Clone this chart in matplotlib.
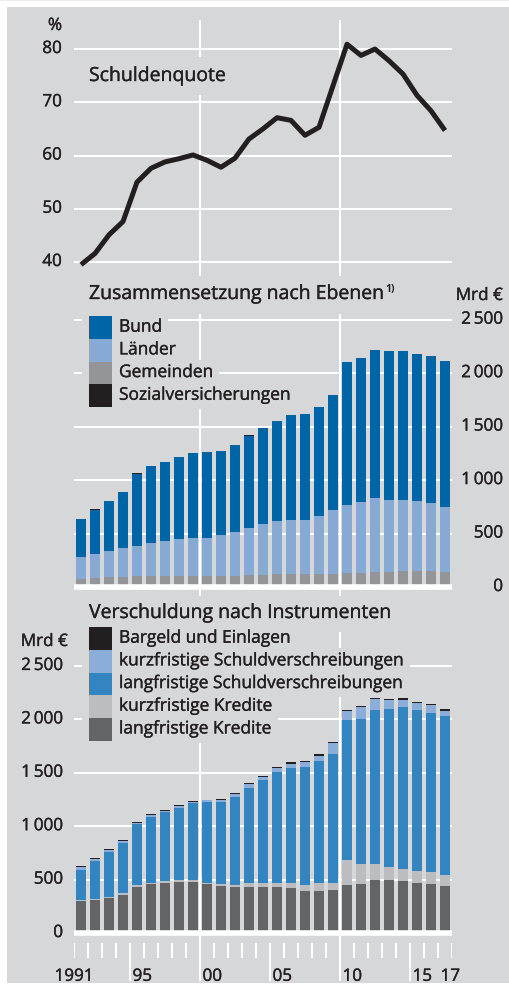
import matplotlib
matplotlib.use('Agg')
import matplotlib.pyplot as plt
import matplotlib.patheffects as pe
from matplotlib.patches import Rectangle
from matplotlib import transforms

plt.rcParams['font.family'] = ['Open Sans', 'DejaVu Sans']

# Daten
jahre = list(range(1991, 2018))
schuldenquote = [39.5, 41.6, 45.1, 47.6, 55.0, 57.6, 58.8, 59.4, 60.1, 59.1, 57.8, 59.5, 63.1,
                 65.0, 67.1, 66.6, 63.8, 65.3, 73.1, 80.9, 78.8, 80.0, 77.8, 75.3, 71.3, 68.4, 64.7]

# Zusammensetzung nach Ebenen (Mrd €)
gemeinden = [75, 84, 94, 97, 106, 106, 106, 106, 106, 103, 103, 103, 112, 112, 119, 119, 119,
             119, 125, 131, 134, 140, 144, 147, 147, 147, 140]
laender = [206, 222, 240, 268, 281, 303, 325, 340, 350, 356, 381, 412, 444, 475, 496, 505, 511,
           543, 593, 637, 659, 690, 667, 664, 658, 643, 612]
bund = [356, 418, 474, 521, 674, 718, 739, 771, 799, 799, 789, 811, 858, 899, 939, 980, 984,
        1020, 1080, 1339, 1348, 1389, 1396, 1396, 1377, 1367, 1358]
sozial = [1, 1, 1, 1, 1, 1, 1, 1, 1, 1, 1, 1, 5, 1, 1, 1, 1, 1, 1, 1, 1, 1, 1, 1, 1, 1, 1]

# Verschuldung nach Instrumenten (Mrd €)
lang_kredite = [297, 309, 328, 359, 431, 459, 469, 478, 475, 462, 444, 428, 434, 434, 428, 419,
                397, 397, 406, 447, 459, 494, 500, 484, 472, 459, 441]
kurz_kredite = [9, 7, 6, 13, 16, 13, 15, 16, 19, 7, 12, 22, 35, 38, 44, 50, 53, 75, 66, 234, 191,
                150, 122, 119, 112, 113, 103]
lang_sv = [288, 362, 428, 475, 578, 615, 650, 681, 722, 756, 769, 822, 890, 959, 1031, 1078,
           1103, 1141, 1203, 1310, 1350, 1440, 1475, 1510, 1500, 1487, 1490]
kurz_sv = [25, 19, 19, 19, 9, 16, 13, 16, 12, 16, 22, 28, 32, 31, 38, 40, 44, 46, 100, 90, 113,
           110, 87, 71, 72, 75, 47]
bargeld = [6, 9, 10, 9, 7, 9, 9, 9, 9, 6, 9, 12, 12, 10, 9, 10, 9, 13, 12, 10, 12, 9, 10, 13, 10,
           13, 13]

quote_ticks = [40, 50, 60, 70, 80]
mrd_ticks = [0, 500, 1000, 1500, 2000, 2500]
mrd_labels = ['0', '500', '1\u2009000', '1\u2009500', '2\u2009000', '2\u2009500']
jahr_labels = [(1990.5, '1991'), (1994.5, '95'), (1999.5, '00'), (2004.5, '05'),
               (2009.5, '10'), (2014.5, '15'), (2016.5, '17')]

# Farben
bg = '#d6d7d9'
txt = '#231f20'
c_bund, c_laender, c_gem, c_soz = '#0065a7', '#87aad4', '#939598', '#231f20'
c_lk, c_kk, c_lsv, c_ksv, c_bar = '#636466', '#bcbdc0', '#3385c1', '#8aaed9', '#231f20'

# Schrift etwas kräftiger
dick = [pe.withStroke(linewidth=0.25, foreground=txt)]

W, H = 510, 987
fig = plt.figure(figsize=(W / 100, H / 100), dpi=100, facecolor='white')


def fx(x):
    return x / W


def fy(y):
    return 1 - y / H


fig.add_artist(Rectangle((fx(7), fy(984)), 1 - fx(7), (984 - 8) / H, transform=fig.transFigure,
                         fc=bg, ec='none', zorder=-2))
fig.add_artist(Rectangle((0, fy(2)), 1, 2 / H, transform=fig.transFigure,
                         fc='#ececec', ec='none', zorder=-2))


def make_ax(top, bottom):
    ax = fig.add_axes([fx(74), fy(bottom), 378 / W, (bottom - top) / H])
    ax.set_facecolor('none')
    ax.set_axis_off()
    ax.set_xlim(1990.5, 2017.5)
    return ax


def ylabels(ax, vals, labels, xpos, ha):
    tr = transforms.blended_transform_factory(ax.transAxes, ax.transData)
    for v, s in zip(vals, labels):
        ax.text(xpos, v, s, transform=tr, ha=ha, va='center', fontsize=12.3, color=txt,
                path_effects=dick)


def legende(eintraege, y0, step=22.7):
    for i, (farbe, name) in enumerate(eintraege):
        y = y0 + i * step
        fig.add_artist(Rectangle((fx(82), fy(y + step + 3)), 37 / W, (step + 6) / H,
                                 transform=fig.transFigure, fc=bg, ec='none', zorder=4))
        fig.add_artist(Rectangle((fx(89), fy(y + step)), 23 / W, step / H,
                                 transform=fig.transFigure, fc=farbe, ec='none', zorder=5))
        fig.text(fx(119), fy(y + step / 2), name, fontsize=12.5, color=txt, va='center',
                 ha='left', zorder=5, path_effects=dick,
                 bbox=dict(boxstyle='square,pad=0.3', fc=bg, ec='none'))


# 1) Schuldenquote
ax1 = make_ax(21, 277)
ax1.set_ylim(37.37, 85.45)
for v in quote_ticks:
    ax1.axhline(v, color='white', lw=1.5, zorder=0.5)
for v in [1999.5, 2009.5]:
    ax1.axvline(v, color='white', lw=1.5, zorder=0.5)
ax1.plot(jahre, schuldenquote, color='#231f20', lw=3.6, zorder=3, solid_capstyle='butt')
ylabels(ax1, quote_ticks, [str(v) for v in quote_ticks], -0.032, 'right')
fig.text(fx(55), fy(27), '%', fontsize=12.3, color=txt, ha='center', va='center',
         path_effects=dick)
fig.text(fx(89), fy(77), 'Schuldenquote', fontsize=14, color=txt, va='center', zorder=5,
         path_effects=dick, bbox=dict(boxstyle='square,pad=0.5', fc=bg, ec='none'))

# 2) Zusammensetzung nach Ebenen
ax2 = make_ax(315, 597)
ax2.set_ylim(-84, 2553)
for v in mrd_ticks[1:]:
    ax2.axhline(v, color='white', lw=1.5, zorder=0.5)
for v in [1999.5, 2009.5]:
    ax2.axvline(v, color='white', lw=1.5, zorder=0.5)
unten = [0] * len(jahre)
for werte, farbe in [(gemeinden, c_gem), (laender, c_laender), (bund, c_bund), (sozial, c_soz)]:
    ax2.bar(jahre, werte, bottom=unten, width=0.72, color=farbe, zorder=2)
    unten = [a + b for a, b in zip(unten, werte)]
ax2.axhline(0, color='white', lw=4, zorder=3)
ylabels(ax2, mrd_ticks, mrd_labels, 1.135, 'right')
fig.text(fx(503), fy(297), 'Mrd €', fontsize=12.3, color=txt, ha='right', va='center',
         path_effects=dick)
t2 = fig.text(fx(89), fy(295), 'Zusammensetzung nach Ebenen', fontsize=14, color=txt,
              va='center', path_effects=dick)
fig.canvas.draw()
bb = t2.get_window_extent()
fig.text(bb.x1 / W + 0.001, fy(290), '1)', fontsize=7.5, color=txt, va='center',
         fontweight='bold')
legende([(c_bund, 'Bund'), (c_laender, 'Länder'), (c_gem, 'Gemeinden'),
         (c_soz, 'Sozialversicherungen')], 317.3)

# 3) Verschuldung nach Instrumenten
ax3 = make_ax(633, 982)
ax3.set_ylim(-449, 2818)
for v in mrd_ticks[1:]:
    ax3.axhline(v, color='white', lw=1.5, zorder=0.5)
for v in [1999.5, 2009.5]:
    ax3.axvline(v, color='white', lw=1.5, zorder=0.5)
unten = [0] * len(jahre)
for werte, farbe in [(lang_kredite, c_lk), (kurz_kredite, c_kk), (lang_sv, c_lsv),
                     (kurz_sv, c_ksv), (bargeld, c_bar)]:
    ax3.bar(jahre, werte, bottom=unten, width=0.72, color=farbe, zorder=2)
    unten = [a + b for a, b in zip(unten, werte)]
ax3.axhline(0, color='white', lw=4, zorder=3)
grenzen = [j - 0.5 for j in jahre] + [2017.5]
kurz = [g for g in grenzen if g not in (1994.5, 1999.5, 2004.5, 2009.5, 2014.5)]
ax3.vlines(kurz, -94, -234, color='white', lw=1.5, zorder=3)
ax3.vlines([1994.5, 2004.5, 2014.5], -94, -449, color='white', lw=1.5, zorder=3)
ylabels(ax3, mrd_ticks, mrd_labels, -0.029, 'right')
for x, s in jahr_labels:
    if s == '1991':
        ax3.text(x, -410, s, ha='center', va='center', fontsize=12.3, color=txt,
                 path_effects=dick)
    else:
        ax3.text(x + 0.18, -410, s, ha='left', va='center', fontsize=12.3, color=txt,
                 path_effects=dick)
fig.text(fx(68), fy(643), 'Mrd €', fontsize=12.3, color=txt, ha='right', va='center',
         path_effects=dick)
fig.text(fx(89), fy(614), 'Verschuldung nach Instrumenten', fontsize=14, color=txt,
         va='center', path_effects=dick)
legende([(c_bar, 'Bargeld und Einlagen'), (c_ksv, 'kurzfristige Schuldverschreibungen'),
         (c_lsv, 'langfristige Schuldverschreibungen'), (c_kk, 'kurzfristige Kredite'),
         (c_lk, 'langfristige Kredite')], 628.3)

fig.savefig('out.png', dpi=100, facecolor='white')
